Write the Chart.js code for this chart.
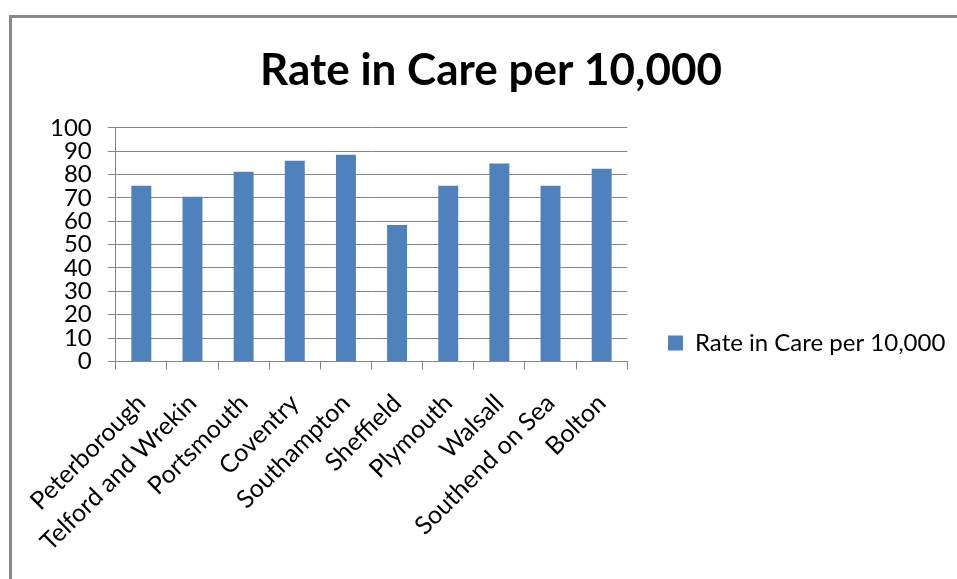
<!DOCTYPE html>
<html>
<head>
<meta charset="utf-8">
<title>Rate in Care per 10,000</title>
<script src="https://cdn.jsdelivr.net/npm/chart.js@4.4.1/dist/chart.umd.min.js"></script>
<style>
  html, body { margin: 0; padding: 0; background: #fff; overflow: hidden; }
  #wrap { position: relative; width: 957px; height: 579px; }
  #frame {
    position: absolute; left: 9px; top: 15px; width: 1000px; height: 600px;
    border-top: 3px solid #898989; border-left: 3px solid #898989;
    pointer-events: none;
  }
</style>
</head>
<body>
<div id="wrap">
  <canvas id="rateChart" width="957" height="579"></canvas>
  <div id="frame"></div>
</div>
<script>
// Local authorities and their rate in care per 10,000 children
const areas = [
  "Peterborough", "Telford and Wrekin", "Portsmouth", "Coventry", "Southampton",
  "Sheffield", "Plymouth", "Walsall", "Southend on Sea", "Bolton"
];
const rates = [75.2, 70.5, 81.2, 85.9, 88.5, 58.4, 75.2, 84.7, 75.2, 82.5];
const yTickValues = [0, 10, 20, 30, 40, 50, 60, 70, 80, 90, 100];

const seriesName = "Rate in Care per 10,000";
const gridGrey = "#868686";

Chart.defaults.font.family = "Lato, 'Open Sans', sans-serif";
Chart.defaults.color = "#000";

// title spans the whole frame; legend sits to the right, level with the lower plot
const boxPlacer = {
  id: "boxPlacer",
  afterLayout(chart) {
    const t = chart.titleBlock;
    t.left = 25;
    t.right = chart.width;
    t.width = t.right - t.left;

    const lg = chart.legend;
    const h = lg.bottom - lg.top;
    lg.top = 343 - h / 2;
    lg.bottom = lg.top + h;
    lg.left = 658;
    lg.right = chart.width;
    lg.width = lg.right - lg.left;
  }
};

new Chart(document.getElementById("rateChart"), {
  type: "bar",
  data: {
    labels: areas,
    datasets: [{
      label: seriesName,
      data: rates,
      backgroundColor: "#4f81bd",
      borderWidth: 0,
      barPercentage: 0.39,
      categoryPercentage: 1
    }]
  },
  options: {
    responsive: false,
    animation: false,
    layout: { padding: { left: 34, right: 132, top: 0, bottom: 3 } },
    plugins: {
      title: {
        display: true,
        text: seriesName,
        font: { size: 44, weight: "bold" },
        padding: { top: 44, bottom: 31 }
      },
      legend: {
        position: "right",
        fullSize: false,
        labels: {
          boxWidth: 15,
          boxHeight: 15,
          padding: 10,
          font: { size: 24 }
        }
      },
      tooltip: { enabled: false }
    },
    scales: {
      x: {
        afterFit: (scale) => {
          // rotated labels may hang left of the plot without pushing it
          scale.paddingLeft = 0;
        },
        grid: {
          offset: true,
          drawOnChartArea: false,
          drawTicks: true,
          tickLength: 8,
          color: gridGrey
        },
        border: { color: gridGrey },
        ticks: {
          autoSkip: false,
          minRotation: 45,
          maxRotation: 45,
          padding: 19,
          font: { size: 25 }
        }
      },
      y: {
        min: 0,
        max: 100,
        afterBuildTicks: (scale) => {
          scale.ticks = yTickValues.map(v => ({ value: v }));
        },
        grid: { color: gridGrey, tickLength: 8 },
        border: { color: gridGrey },
        ticks: { autoSkip: false, padding: 16, font: { size: 24 } }
      }
    }
  },
  plugins: [boxPlacer]
});
</script>
</body>
</html>
